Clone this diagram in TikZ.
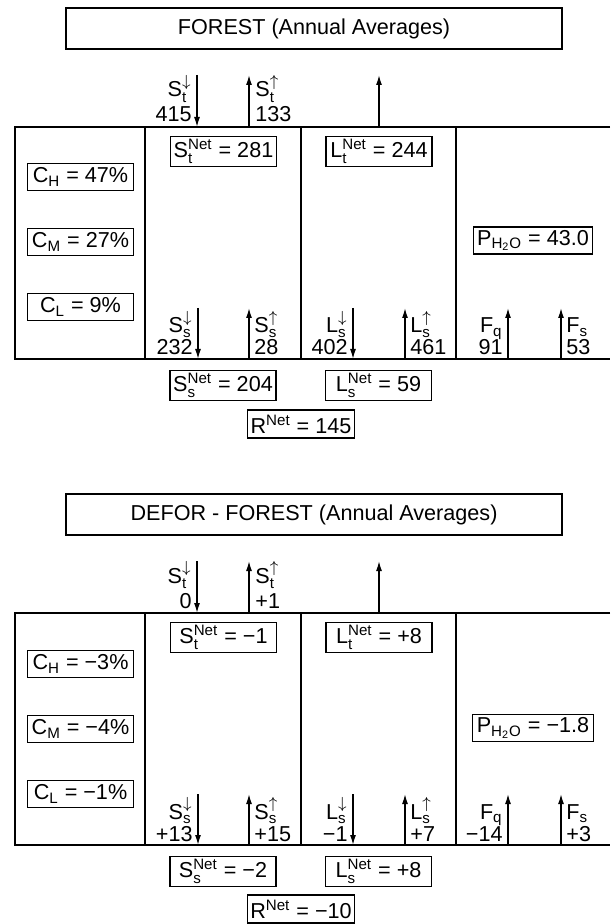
\documentclass[tikz,border=0pt]{standalone}
\usepackage{amsmath}
\usepackage{fontspec}
\setmainfont{Liberation Sans}
\usetikzlibrary{arrows.meta}

\tikzset{
  lbl/.style={draw,line width=0.6pt,inner sep=1.5pt,minimum width=53pt,minimum height=13.5pt},
  flux/.style={-{Latex[length=5pt,width=3pt]},line width=0.7pt},
  frame/.style={line width=0.7pt},
  tag/.style={inner sep=0pt},
}

\begin{document}
\begin{tikzpicture}[x=0.5pt,y=-0.5pt,font=\fontsize{10.8}{13}\selectfont]
  \useasboundingbox (0,0) rectangle (610,924);

  % ---- panel 1: forest ----
  \node[lbl,minimum width=248pt,minimum height=20.5pt] (titleA) at (314,28.5) {FOREST (Annual Averages)};
  \draw[frame] (610,127) -- (15,127) -- (15,359) -- (610,359);
  \foreach \x in {145,301,456} \draw[frame] (\x,127) -- (\x,359);
  % top of atmosphere
  \draw[flux] (197,75) -- (197,127);
  \foreach \x in {249,379} \draw[flux] (\x,127) -- (\x,75);
  \node[tag,anchor=base east] (stdA) at (192,97) {S$^{\downarrow}_{\text{t}}$};
  \node[tag,anchor=base east] (stdvA) at (192,122) {415};
  \node[tag,anchor=base west] (stuA) at (255,97) {S$^{\uparrow}_{\text{t}}$};
  \node[tag,anchor=base west] (stuvA) at (255,122) {133};
  \node[lbl] (stnetA) at (223.5,151.5) {S$^{\text{Net}}_{\text{t}}$ = 281};
  \node[lbl] (ltnetA) at (379,151.5) {L$^{\text{Net}}_{\text{t}}$ = 244};
  % clouds
  \node[lbl] (chA) at (80.5,177) {C\textsubscript{H} = 47\%};
  \node[lbl] (cmA) at (80.5,242) {C\textsubscript{M} = 27\%};
  \node[lbl] (clA) at (80.5,307) {C\textsubscript{L} = 9\%};
  \node[lbl,inner xsep=2pt] (pwA) at (533,240.5) {P$_{\text{H}_{\text{2}}\text{O}}$ = 43.0};
  % surface
  \foreach \x in {198,353} \draw[flux] (\x,308) -- (\x,359);
  \foreach \x in {249,405,508,561} \draw[flux] (\x,359) -- (\x,308);
  \node[tag,anchor=base east] (ssdA) at (193,333) {S$^{\downarrow}_{\text{s}}$};
  \node[tag,anchor=base east] (ssdvA) at (193,355) {232};
  \node[tag,anchor=base west] (ssuA) at (254,333) {S$^{\uparrow}_{\text{s}}$};
  \node[tag,anchor=base west] (ssuvA) at (254,355) {28};
  \node[tag,anchor=base east] (lsdA) at (348,333) {L$^{\downarrow}_{\text{s}}$};
  \node[tag,anchor=base east] (lsdvA) at (348,355) {402};
  \node[tag,anchor=base west] (lsuA) at (410,333) {L$^{\uparrow}_{\text{s}}$};
  \node[tag,anchor=base west] (lsuvA) at (410,355) {461};
  \node[tag,anchor=base east] (fqA) at (503,333) {F\textsubscript{q}};
  \node[tag,anchor=base east] (fqvA) at (503,355) {91};
  \node[tag,anchor=base west] (fsA) at (566,333) {F\textsubscript{s}};
  \node[tag,anchor=base west] (fsvA) at (566,355) {53};
  \node[lbl] (ssnetA) at (223,385.5) {S$^{\text{Net}}_{\text{s}}$ = 204};
  \node[lbl] (lsnetA) at (378.5,385.5) {L$^{\text{Net}}_{\text{s}}$ = 59};
  \node[lbl,minimum height=14pt] (rnetA) at (301,424) {R$^{\text{Net}}$ = 145};

  % ---- panel 2: defor - forest ----
  \begin{scope}[shift={(0,486)}]
  \node[lbl,minimum width=248pt,minimum height=20.5pt] (titleB) at (314,28.5) {DEFOR - FOREST (Annual Averages)};
  \draw[frame] (610,127) -- (15,127) -- (15,359) -- (610,359);
  \foreach \x in {145,301,456} \draw[frame] (\x,127) -- (\x,359);
  % top of atmosphere
  \draw[flux] (197,75) -- (197,127);
  \foreach \x in {249,379} \draw[flux] (\x,127) -- (\x,75);
  \node[tag,anchor=base east] (stdB) at (192,97) {S$^{\downarrow}_{\text{t}}$};
  \node[tag,anchor=base east] (stdvB) at (192,122) {0};
  \node[tag,anchor=base west] (stuB) at (255,97) {S$^{\uparrow}_{\text{t}}$};
  \node[tag,anchor=base west] (stuvB) at (255,122) {+1};
  \node[lbl] (stnetB) at (223.5,151.5) {S$^{\text{Net}}_{\text{t}}$ = −1};
  \node[lbl] (ltnetB) at (379,151.5) {L$^{\text{Net}}_{\text{t}}$ = +8};
  % clouds
  \node[lbl] (chB) at (80.5,178) {C\textsubscript{H} = −3\%};
  \node[lbl] (cmB) at (80.5,243) {C\textsubscript{M} = −4\%};
  \node[lbl] (clB) at (80.5,308) {C\textsubscript{L} = −1\%};
  \node[lbl,inner xsep=2pt] (pwB) at (533,242) {P$_{\text{H}_{\text{2}}\text{O}}$ = −1.8};
  % surface
  \foreach \x in {198,353} \draw[flux] (\x,308) -- (\x,359);
  \foreach \x in {249,405,508,561} \draw[flux] (\x,359) -- (\x,308);
  \node[tag,anchor=base east] (ssdB) at (193,333) {S$^{\downarrow}_{\text{s}}$};
  \node[tag,anchor=base east] (ssdvB) at (193,355) {+13};
  \node[tag,anchor=base west] (ssuB) at (254,333) {S$^{\uparrow}_{\text{s}}$};
  \node[tag,anchor=base west] (ssuvB) at (254,355) {+15};
  \node[tag,anchor=base east] (lsdB) at (348,333) {L$^{\downarrow}_{\text{s}}$};
  \node[tag,anchor=base east] (lsdvB) at (348,355) {−1};
  \node[tag,anchor=base west] (lsuB) at (410,333) {L$^{\uparrow}_{\text{s}}$};
  \node[tag,anchor=base west] (lsuvB) at (410,355) {+7};
  \node[tag,anchor=base east] (fqB) at (503,333) {F\textsubscript{q}};
  \node[tag,anchor=base east] (fqvB) at (503,355) {−14};
  \node[tag,anchor=base west] (fsB) at (566,333) {F\textsubscript{s}};
  \node[tag,anchor=base west] (fsvB) at (566,355) {+3};
  \node[lbl] (ssnetB) at (223,385.5) {S$^{\text{Net}}_{\text{s}}$ = −2};
  \node[lbl] (lsnetB) at (378.5,385.5) {L$^{\text{Net}}_{\text{s}}$ = +8};
  \node[lbl,minimum height=14pt] (rnetB) at (301,423) {R$^{\text{Net}}$ = −10};
  \end{scope}
\end{tikzpicture}
\end{document}
